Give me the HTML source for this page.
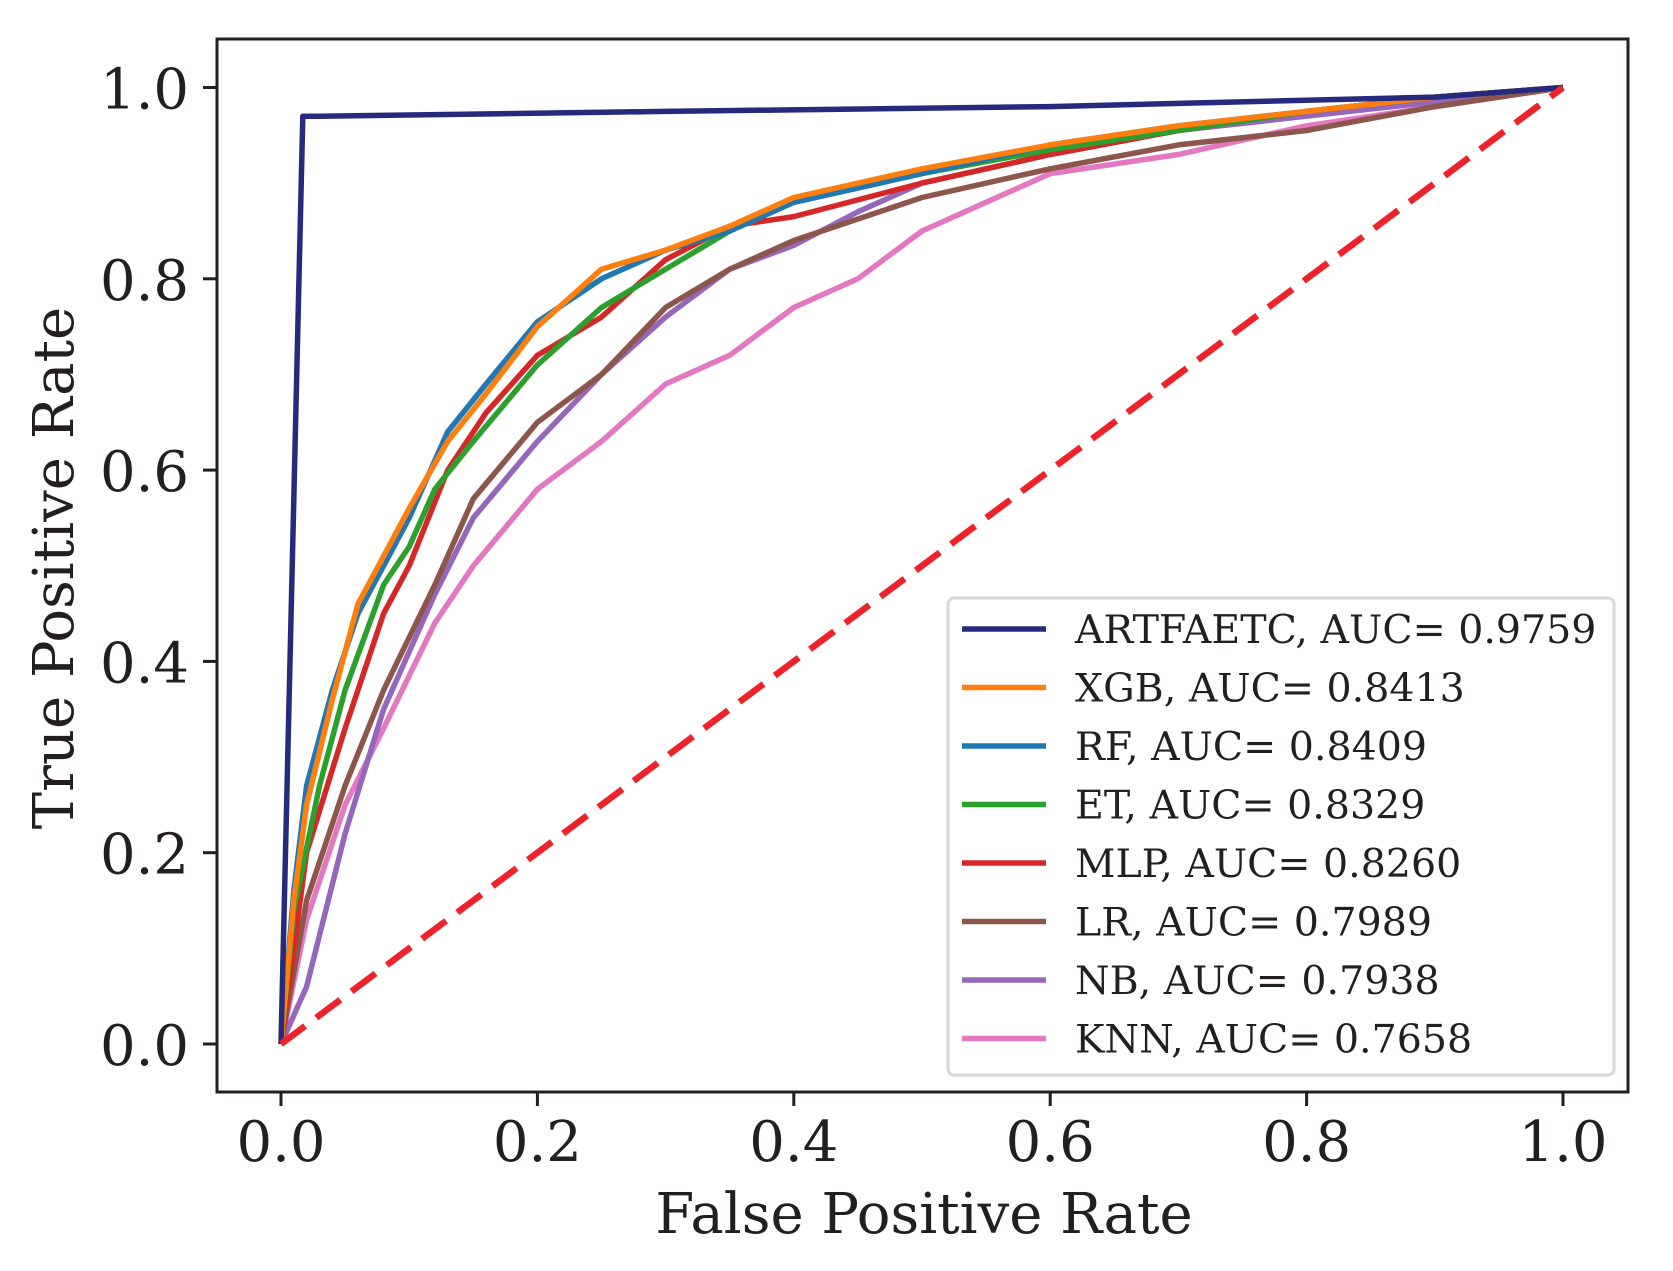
<!DOCTYPE html>
<html><head><meta charset="utf-8"><style>
html,body{margin:0;padding:0;background:#fff;}
svg{display:block;}
text{font-family:"DejaVu Serif","Liberation Serif",serif;fill:#231f20;}
</style></head><body>
<svg id="chart" width="1673" height="1271" viewBox="0 0 1673 1271" xmlns="http://www.w3.org/2000/svg">
<rect x="0" y="0" width="1673" height="1271" fill="#fff"/>
<g id="plot"></g>
</svg>
<script>
const xTicks = [0.0, 0.2, 0.4, 0.6, 0.8, 1.0];
const yTicks = [0.0, 0.2, 0.4, 0.6, 0.8, 1.0];
const seriesNames = ["ARTFAETC, AUC= 0.9759","XGB, AUC= 0.8413","RF, AUC= 0.8409","ET, AUC= 0.8329","MLP, AUC= 0.8260","LR, AUC= 0.7989","NB, AUC= 0.7938","KNN, AUC= 0.7658"];
const seriesColors = ["#262a7c","#ff7f0e","#1f77b4","#2ca02c","#d62728","#8c564b","#9467bd","#e377c2"];
const artFpr = [0,0.017,0.03,0.3,0.6,0.9,1];
const artTpr = [0,0.97,0.97,0.975,0.98,0.99,1];
const xgbFpr = [0,0.01,0.02,0.04,0.06,0.08,0.1,0.13,0.16,0.2,0.25,0.3,0.35,0.4,0.5,0.6,0.7,0.8,0.9,1];
const xgbTpr = [0,0.15,0.25,0.36,0.46,0.51,0.56,0.63,0.68,0.75,0.81,0.83,0.855,0.885,0.915,0.94,0.96,0.975,0.99,1];
const rfFpr = [0,0.01,0.02,0.04,0.06,0.08,0.1,0.13,0.16,0.2,0.25,0.3,0.35,0.4,0.5,0.6,0.7,0.8,0.9,1];
const rfTpr = [0,0.16,0.27,0.37,0.45,0.5,0.55,0.64,0.69,0.755,0.8,0.83,0.85,0.88,0.91,0.94,0.96,0.975,0.99,1];
const etFpr = [0,0.01,0.03,0.05,0.08,0.1,0.12,0.15,0.2,0.25,0.3,0.35,0.4,0.5,0.6,0.7,0.8,0.9,1];
const etTpr = [0,0.14,0.27,0.37,0.48,0.52,0.58,0.63,0.71,0.77,0.81,0.85,0.88,0.91,0.935,0.955,0.975,0.99,1];
const mlpFpr = [0,0.02,0.05,0.08,0.1,0.13,0.16,0.2,0.25,0.3,0.35,0.4,0.5,0.6,0.7,0.8,0.9,1];
const mlpTpr = [0,0.2,0.33,0.45,0.5,0.6,0.66,0.72,0.76,0.82,0.855,0.865,0.9,0.93,0.955,0.975,0.99,1];
const lrFpr = [0,0.02,0.05,0.08,0.12,0.15,0.2,0.25,0.3,0.35,0.4,0.5,0.6,0.7,0.8,0.9,1];
const lrTpr = [0,0.15,0.27,0.37,0.48,0.57,0.65,0.7,0.77,0.81,0.84,0.885,0.915,0.94,0.955,0.98,1];
const nbFpr = [0,0.02,0.05,0.08,0.12,0.15,0.2,0.25,0.3,0.35,0.4,0.45,0.5,0.6,0.7,0.8,0.9,1];
const nbTpr = [0,0.06,0.22,0.35,0.47,0.55,0.63,0.7,0.76,0.81,0.835,0.87,0.9,0.93,0.955,0.97,0.985,1];
const knnFpr = [0,0.02,0.05,0.08,0.12,0.15,0.2,0.25,0.3,0.35,0.4,0.45,0.5,0.55,0.6,0.7,0.8,0.9,1];
const knnTpr = [0,0.13,0.25,0.33,0.44,0.5,0.58,0.63,0.69,0.72,0.77,0.8,0.85,0.88,0.91,0.93,0.96,0.98,1];
const allFpr = [artFpr,xgbFpr,rfFpr,etFpr,mlpFpr,lrFpr,nbFpr,knnFpr];
const allTpr = [artTpr,xgbTpr,rfTpr,etTpr,mlpTpr,lrTpr,nbTpr,knnTpr];
const diagX = [0,1];
const diagY = [0,1];

const NS="http://www.w3.org/2000/svg";
const X0=281, X1=1563, Y0=1044, Y1=87.5;
function sx(v){return X0+(X1-X0)*v;}
function sy(v){return Y0+(Y1-Y0)*v;}
const g=document.getElementById('plot');
function mk(tag,attrs,parent){const e=document.createElementNS(NS,tag);for(const k in attrs)e.setAttribute(k,attrs[k]);(parent||g).appendChild(e);return e;}

for(let s=allFpr.length-1;s>=0;s--){
  const pts=allFpr[s].map((f,i)=>sx(f).toFixed(1)+','+sy(allTpr[s][i]).toFixed(1)).join(' ');
  const pl=mk('polyline',{points:pts,fill:'none',stroke:seriesColors[s],'stroke-width':5.5,'stroke-linejoin':'round'});
  
  
}
const dg=mk('line',{x1:sx(diagX[0]),y1:sy(diagY[0]),x2:sx(diagX[1]),y2:sy(diagY[1]),stroke:'#ee2229','stroke-width':6.5,'stroke-dasharray':'30,14'});



const fr=mk('rect',{x:217,y:39,width:1411,height:1053,fill:'none',stroke:'#231f20','stroke-width':3});



xTicks.forEach(t=>{
  const l=mk('line',{x1:sx(t),y1:1092,x2:sx(t),y2:1106,stroke:'#231f20','stroke-width':3});
  
  
  const tx=mk('text',{x:sx(t),y:1161,'text-anchor':'middle','font-size':56});
  tx.textContent=t.toFixed(1);
  
  
});
yTicks.forEach(t=>{
  const l=mk('line',{x1:203,y1:sy(t),x2:217,y2:sy(t),stroke:'#231f20','stroke-width':3});
  
  
  const tx=mk('text',{x:189,y:sy(t)+21,'text-anchor':'end','font-size':56});
  tx.textContent=t.toFixed(1);
  
  
});
const xl=mk('text',{x:924,y:1233,'text-anchor':'middle','font-size':56});
xl.textContent='False Positive Rate';


const yl=mk('text',{x:0,y:0,'text-anchor':'middle','font-size':56,transform:'translate(73,568) rotate(-90)'});
yl.textContent='True Positive Rate';



const lg=mk('g',{});


mk('rect',{x:948,y:598,width:666,height:477,rx:6,fill:'#fff',stroke:'#d9d9d9','stroke-width':3},lg);
seriesNames.forEach((n,i)=>{
  const y=629+i*58.5;
  const ent=mk('g',{},lg);
  
  
  mk('line',{x1:962,y1:y,x2:1046,y2:y,stroke:seriesColors[i],'stroke-width':5.5},ent);
  const t=mk('text',{x:1075,y:y+14,'font-size':39.5},ent);
  t.textContent=n;
});
</script>
</body></html>
